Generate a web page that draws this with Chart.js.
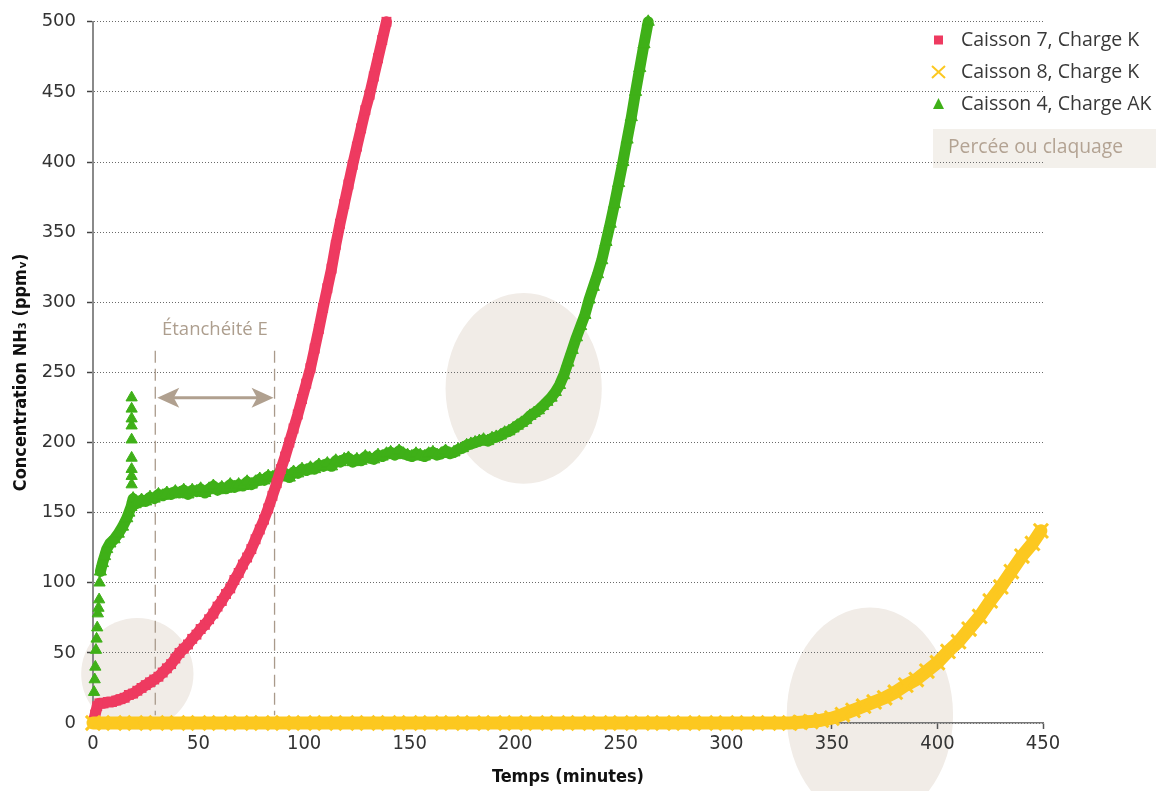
<!DOCTYPE html>
<html lang="fr">
<head>
<meta charset="utf-8">
<title>Concentration NH3 – caissons</title>
<script src="https://cdn.jsdelivr.net/npm/chart.js@4.4.1/dist/chart.umd.min.js"></script>
<style>
  html, body { margin: 0; padding: 0; background: #fff; }
  #wrap { width: 1168px; height: 791px; }
</style>
</head>
<body>
<div id="wrap"><canvas id="c" width="1168" height="791"></canvas></div>
<script>
// ---- Caisson 7, Charge K ----
const c7Minutes = [0, 1, 2, 3, 5, 7, 9, 11, 13, 15, 17, 19, 21, 23, 25, 27, 29, 31, 33, 35, 37, 39,
  41, 43, 45, 47, 49, 51, 53, 55, 57, 59, 61, 63, 65, 67, 69, 71, 73, 75, 77, 79, 81, 83, 85, 87, 89,
  91, 93, 95, 97, 99, 101, 103, 105, 107, 109, 111, 113, 115, 117, 119, 121, 123, 125, 127, 129, 131,
  133, 135, 137, 139];
const c7Ppm = [0, 6, 12, 14, 14, 15, 15, 16, 17, 18, 20, 21, 23, 25, 27, 29, 31, 33, 36, 39, 42, 46,
  50, 53, 56, 60, 63, 67, 70, 74, 78, 83, 87, 92, 96, 102, 107, 113, 118, 124, 131, 138, 145, 153, 162, 171, 181,
  190, 200, 210, 220, 231, 242, 253, 267, 281, 296, 310, 324, 341, 356, 370, 384, 398, 411, 424, 437, 448,
  461, 474, 487, 500];

// ---- Caisson 8, Charge K ----
const c8Minutes = [0, 10, 20, 30, 40, 50, 60, 70, 80, 90, 100, 110, 120, 130, 140, 150, 160, 170, 180,
  190, 200, 210, 220, 230, 240, 250, 260, 270, 280, 290, 300, 310, 320, 330, 335, 340, 345, 350, 355,
  360, 365, 370, 375, 380, 385, 390, 395, 400, 405, 410, 415, 420, 425, 430, 435, 440, 445, 449];
const c8Ppm = [0, 0, 0, 0, 0, 0, 0, 0, 0, 0, 0, 0, 0, 0, 0, 0, 0, 0, 0,
  0, 0, 0, 0, 0, 0, 0, 0, 0, 0, 0, 0, 0, 0, 0, 0.5, 1, 2, 3.5, 6,
  9, 12, 15, 18, 22, 27, 31, 37, 43, 51, 58, 67, 76, 87, 97, 108, 119, 128, 137];

// ---- Caisson 4, Charge AK ----
const c4Minutes = [3.5, 4.5, 5.5, 6.5, 8, 10, 12, 14, 16, 17, 18, 19, 20, 21, 23, 25, 27, 29, 31, 33,
  35, 37, 39, 41, 43, 45, 47, 49, 51, 53, 55, 57, 59, 61, 63, 65, 67, 69, 71, 73, 75, 77, 79, 81, 83,
  85, 87, 89, 91, 93, 95, 97, 99, 101, 103, 105, 107, 109, 111, 113, 115, 117, 119, 121, 123, 125, 127,
  129, 131, 133, 135, 137, 139, 141, 143, 145, 147, 149, 151, 153, 155, 157, 159, 161, 163, 165, 167,
  169, 171, 173, 175, 177, 179, 181, 183, 185, 187, 189, 191, 193, 195, 197, 199, 201, 203, 205, 207,
  209, 211, 213, 215, 217, 219, 221, 223, 225, 227, 229, 231, 233, 235, 237, 239, 241, 243, 245, 247,
  249, 251, 253, 255, 257, 259, 261, 263];
const c4Ppm = [108, 114, 119, 124, 128, 131, 135, 140, 146, 150, 154, 160, 156, 157, 159, 158, 161, 160, 163, 162,
  164, 163, 165, 164, 166, 163, 166, 165, 167, 164, 167, 169, 166, 168, 167, 170, 168, 170, 169, 172, 170, 172, 174, 173, 176,
  175, 177, 176, 178, 175, 179, 178, 181, 180, 182, 181, 184, 183, 185, 183, 187, 186, 188, 189, 186, 188, 187,
  190, 189, 188, 191, 190, 192, 193, 191, 194, 192, 191, 190, 192, 191, 190, 192, 193, 191, 192, 194,
  192, 193, 195, 196, 198, 199, 200, 201, 202, 201, 203, 204, 205, 207, 208, 210, 212, 214, 216, 219,
  221, 223, 226, 229, 232, 236, 241, 248, 257, 266, 275, 283, 291, 302, 311, 320, 330, 343, 356, 370,
  385, 400, 416, 432, 450, 467, 484, 500];
// isolated readings: first minutes and the short peak near 18 min
const c4BurstMinutes = [0.5, 0.8, 1.1, 1.4, 1.7, 2.0, 2.3, 2.6, 2.9, 3.1, 18.3, 18.3, 18.3, 18.3, 18.3, 18.3, 18.3, 18.3, 18.3];
const c4BurstPpm = [22, 31, 40, 52, 60, 68, 78, 82, 88, 100, 170, 176, 181, 189, 202, 212, 217, 224, 232];

// ---- annotations (minutes / ppm) ----
const zoneMinutes = [21, 204, 368];
const zonePpm = [35, 238.6, 5.7];
const zoneHalfWidthMin = [26.6, 37, 39.4];
const zoneHalfHeightPpm = [39.8, 68, 76.7];
const sealWindow = [29.5, 86];
const sealLabel = 'Étanchéité E';
const breakthroughLabel = 'Percée ou claquage';

const RED = '#ee3a60';
const YELLOW = '#fcc820';
const GREEN = '#3fb018';
const BEIGE = '#f1ece7';
const TAUPE = '#b0a08f';
const UI_FONT = '"Open Sans", "Noto Sans", sans-serif';

const toPoints = (xs, ys) => xs.map((x, i) => ({ x, y: ys[i] }));

const overlay = {
  id: 'overlay',
  beforeDraw(chart) {
    const { ctx, scales: { x, y } } = chart;
    ctx.save();
    ctx.fillStyle = BEIGE;
    zoneMinutes.forEach((m, i) => {
      const cx = x.getPixelForValue(m);
      const cy = y.getPixelForValue(zonePpm[i]);
      const rx = Math.abs(x.getPixelForValue(m + zoneHalfWidthMin[i]) - cx);
      const ry = Math.abs(y.getPixelForValue(zonePpm[i] + zoneHalfHeightPpm[i]) - cy);
      ctx.beginPath();
      ctx.ellipse(cx, cy, rx, ry, 0, 0, Math.PI * 2);
      ctx.fill();
    });
    // breakthrough key box
    ctx.fillStyle = '#f3f0eb';
    ctx.fillRect(933, 129, 223, 39);
    ctx.fillStyle = '#b3a393';
    ctx.font = '19.3px ' + UI_FONT;
    ctx.textBaseline = 'middle';
    ctx.textAlign = 'left';
    ctx.fillText(breakthroughLabel, 948, 148);
    ctx.restore();
  },
  beforeDatasetsDraw(chart) {
    const { ctx, scales: { x, y } } = chart;
    ctx.save();
    const xa = x.getPixelForValue(sealWindow[0]);
    const xb = x.getPixelForValue(sealWindow[1]);
    const yTop = y.getPixelForValue(265.5);
    const yBot = y.getPixelForValue(5.5);
    ctx.strokeStyle = '#a99a8b';
    ctx.lineWidth = 1.3;
    ctx.setLineDash([12, 6]);
    [xa, xb].forEach(px => {
      ctx.beginPath();
      ctx.moveTo(px, yTop);
      ctx.lineTo(px, yBot);
      ctx.stroke();
    });
    ctx.setLineDash([]);
    // double arrow
    const ay = y.getPixelForValue(232);
    const l = xa + 2, r = xb - 1;
    ctx.strokeStyle = TAUPE;
    ctx.fillStyle = TAUPE;
    ctx.lineWidth = 3;
    ctx.beginPath();
    ctx.moveTo(l + 14, ay);
    ctx.lineTo(r - 14, ay);
    ctx.stroke();
    const head = (tip, dir) => {
      ctx.beginPath();
      ctx.moveTo(tip, ay);
      ctx.lineTo(tip - dir * 22, ay - 10);
      ctx.lineTo(tip - dir * 16.5, ay);
      ctx.lineTo(tip - dir * 22, ay + 10);
      ctx.closePath();
      ctx.fill();
    };
    head(l, -1);
    head(r, 1);
    ctx.fillStyle = '#ad9e8e';
    ctx.font = '18.5px ' + UI_FONT;
    ctx.textAlign = 'center';
    ctx.textBaseline = 'alphabetic';
    ctx.fillText(sealLabel, (xa + xb) / 2, y.getPixelForValue(277));
    ctx.restore();
  },
  afterDraw(chart) {
    const { ctx } = chart;
    const items = chart.data.datasets.filter(d => d.inLegend)
      .sort((a, b) => a.legendRank - b.legendRank);
    ctx.save();
    ctx.font = '19.5px ' + UI_FONT;
    ctx.textBaseline = 'middle';
    ctx.textAlign = 'left';
    items.forEach((d, i) => {
      const cy = 40 + i * 32;
      const cx = 938.5;
      ctx.fillStyle = d.borderColor;
      ctx.strokeStyle = d.borderColor;
      if (d.pointStyle === 'rect') {
        ctx.fillRect(cx - 4.5, cy - 4.5, 9, 9);
      } else if (d.pointStyle === 'crossRot') {
        ctx.lineWidth = 2;
        ctx.beginPath();
        ctx.moveTo(cx - 6.5, cy - 6); ctx.lineTo(cx + 6.5, cy + 6);
        ctx.moveTo(cx + 6.5, cy - 6); ctx.lineTo(cx - 6.5, cy + 6);
        ctx.stroke();
      } else {
        ctx.beginPath();
        ctx.moveTo(cx, cy - 6);
        ctx.lineTo(cx + 5.5, cy + 5);
        ctx.lineTo(cx - 5.5, cy + 5);
        ctx.closePath();
        ctx.fill();
      }
      ctx.fillStyle = '#383838';
      ctx.fillText(d.label, 961, cy);
    });
    ctx.restore();
  }
};

new Chart(document.getElementById('c'), {
  type: 'scatter',
  data: {
    datasets: [
      {
        label: 'Caisson 8, Charge K', inLegend: true, legendRank: 2,
        data: toPoints(c8Minutes, c8Ppm), showLine: true, order: 1, clip: false,
        borderColor: YELLOW, backgroundColor: YELLOW, borderWidth: 13,
        pointStyle: 'crossRot', pointRadius: 10, pointBorderWidth: 3,
        pointBorderColor: YELLOW, pointBackgroundColor: YELLOW
      },
      {
        label: 'Caisson 7, Charge K', inLegend: true, legendRank: 1,
        data: toPoints(c7Minutes, c7Ppm), showLine: true, order: 2, clip: false,
        borderColor: RED, backgroundColor: RED, borderWidth: 11,
        pointStyle: 'rect', pointRadius: 7, pointBorderWidth: 0,
        pointBackgroundColor: RED
      },
      {
        label: 'Caisson 4, Charge AK', inLegend: true, legendRank: 3,
        data: toPoints(c4Minutes, c4Ppm), showLine: true, order: 3, clip: false,
        borderColor: GREEN, backgroundColor: GREEN, borderWidth: 11,
        pointStyle: 'triangle', pointRadius: 7, pointBorderWidth: 1,
        pointBorderColor: GREEN, pointBackgroundColor: GREEN
      },
      {
        label: 'Caisson 4, Charge AK (pics)', inLegend: false,
        data: toPoints(c4BurstMinutes, c4BurstPpm), showLine: false, order: 3, clip: false,
        borderColor: GREEN, backgroundColor: GREEN,
        pointStyle: 'triangle', pointRadius: 6.5, pointBorderWidth: 1,
        pointBorderColor: GREEN, pointBackgroundColor: GREEN
      }
    ]
  },
  options: {
    responsive: false,
    animation: false,
    events: [],
    layout: { padding: { top: 19, right: 125, left: 0, bottom: 0 } },
    elements: { line: { tension: 0, borderJoinStyle: 'round', borderCapStyle: 'round' } },
    plugins: { legend: { display: false }, tooltip: { enabled: false } },
    scales: {
      x: {
        type: 'linear', min: 0, max: 450,
        ticks: {
          stepSize: 50, autoSkip: false, maxRotation: 0, padding: 3, color: '#333',
          font: { family: '"DejaVu Sans Condensed", "DejaVu Sans", sans-serif', size: 20 }
        },
        grid: { drawOnChartArea: false, drawTicks: true, tickLength: 6, tickColor: '#555', tickWidth: 1.5 },
        border: { display: true, color: '#777', width: 1.5 },
        title: {
          display: true, text: 'Temps (minutes)', color: '#111',
          font: { family: '"Liberation Sans Narrow", "DejaVu Sans Condensed", sans-serif', size: 18, weight: 'bold' },
          padding: { top: 0, bottom: 3 }
        },
        afterFit(scale) { scale.height = 68; }
      },
      y: {
        type: 'linear', min: 0, max: 500,
        ticks: {
          stepSize: 50, padding: 11, color: '#333',
          font: { family: '"DejaVu Sans", sans-serif', size: 18 }
        },
        grid: { color: '#6a6a6a', lineWidth: 1, drawTicks: true, tickLength: 6, tickColor: '#444', tickWidth: 1.5 },
        border: { display: true, color: '#8a8a8a', width: 2, dash: [1, 2] },
        title: {
          display: true, text: 'Concentration NH₃ (ppmᵥ)', color: '#111',
          font: { family: '"Liberation Sans Narrow", "DejaVu Sans Condensed", sans-serif', size: 18, weight: 'bold' },
          padding: { top: 11, bottom: 0 }
        },
        afterFit(scale) { scale.width = 93; }
      }
    }
  },
  plugins: [overlay]
});
</script>
</body>
</html>
